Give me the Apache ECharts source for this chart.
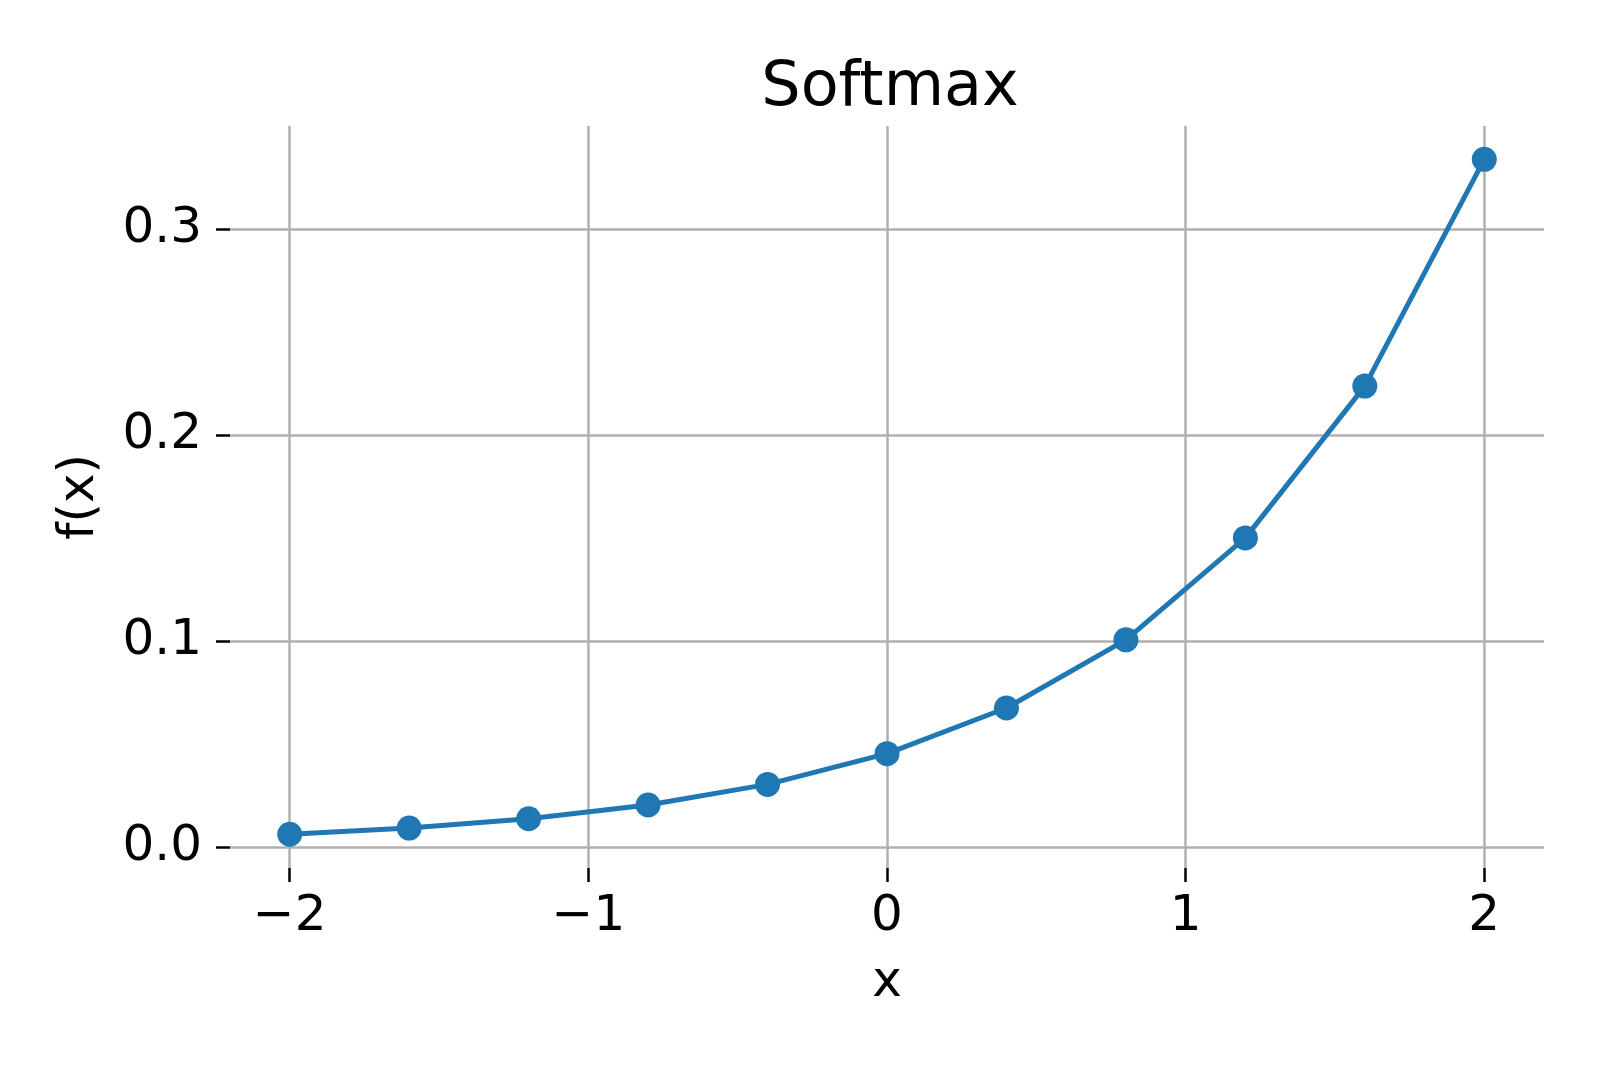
<!DOCTYPE html>
<html>
<head>
<meta charset="utf-8">
<script src="https://cdn.jsdelivr.net/npm/echarts@6/dist/echarts.min.js"></script>
<style>
  html, body { margin: 0; padding: 0; background: #fff; }
  #main { width: 1600px; height: 1067px; }
</style>
</head>
<body>
<div id="main"></div>
<script>
// values
var xValues = [-2, -1.6, -1.2, -0.8, -0.4, 0, 0.4, 0.8, 1.2, 1.6, 2];
var yValues = [0.0061, 0.0091, 0.0136, 0.0203, 0.0303, 0.0452, 0.0674, 0.1005, 0.1500, 0.2237, 0.3338];
var xTicks = [-2, -1, 0, 1, 2];
var yTicks = [0, 0.1, 0.2, 0.3];

var font = 'DejaVu Sans';
var points = xValues.map(function (x, i) { return [x, yValues[i]]; });

var myChart = echarts.init(document.getElementById('main'));
myChart.setOption({
  animation: false,
  backgroundColor: '#fff',
  title: {
    text: 'Softmax',
    left: 885,
    textAlign: 'center',
    top: 53,
    textStyle: { fontFamily: font, fontSize: 62, fontWeight: 'normal', color: '#000' }
  },
  grid: { left: 230, right: 56, top: 126, bottom: 199, outerBoundsMode: 'none' },
  xAxis: {
    type: 'value',
    min: -2.2,
    max: 2.2,
    name: 'x',
    nameLocation: 'middle',
    nameGap: 90,
    nameTextStyle: { fontFamily: font, fontSize: 50, color: '#000' },
    axisLine: { show: false, onZero: false },
    axisTick: { show: true, length: 14, customValues: xTicks, lineStyle: { color: '#000', width: 2.5 } },
    axisLabel: {
      customValues: xTicks, margin: 24,
      fontFamily: font, fontSize: 50, color: '#000',
      formatter: function (v) { return String(v).replace('-', '\u2212'); }
    },
    splitLine: { show: true, lineStyle: { color: '#b0b0b0', width: 2.5 } }
  },
  yAxis: {
    type: 'value',
    min: -0.0103,
    max: 0.35,
    name: 'f(x)',
    nameLocation: 'middle',
    nameGap: 125,
    nameTextStyle: { fontFamily: font, fontSize: 50, color: '#000' },
    axisLine: { show: false, onZero: false },
    axisTick: { show: true, length: 14, customValues: yTicks, lineStyle: { color: '#000', width: 2.5 } },
    axisLabel: {
      customValues: yTicks, margin: 28,
      fontFamily: font, fontSize: 50, color: '#000',
      formatter: function (v) { return v.toFixed(1); }
    },
    splitLine: { show: true, lineStyle: { color: '#b0b0b0', width: 2.5 } }
  },
  series: [{
    type: 'line',
    data: points,
    symbol: 'circle',
    symbolSize: 25,
    showAllSymbol: true,
    itemStyle: { color: '#1f77b4' },
    lineStyle: { color: '#1f77b4', width: 5 }
  }]
});
</script>
</body>
</html>
